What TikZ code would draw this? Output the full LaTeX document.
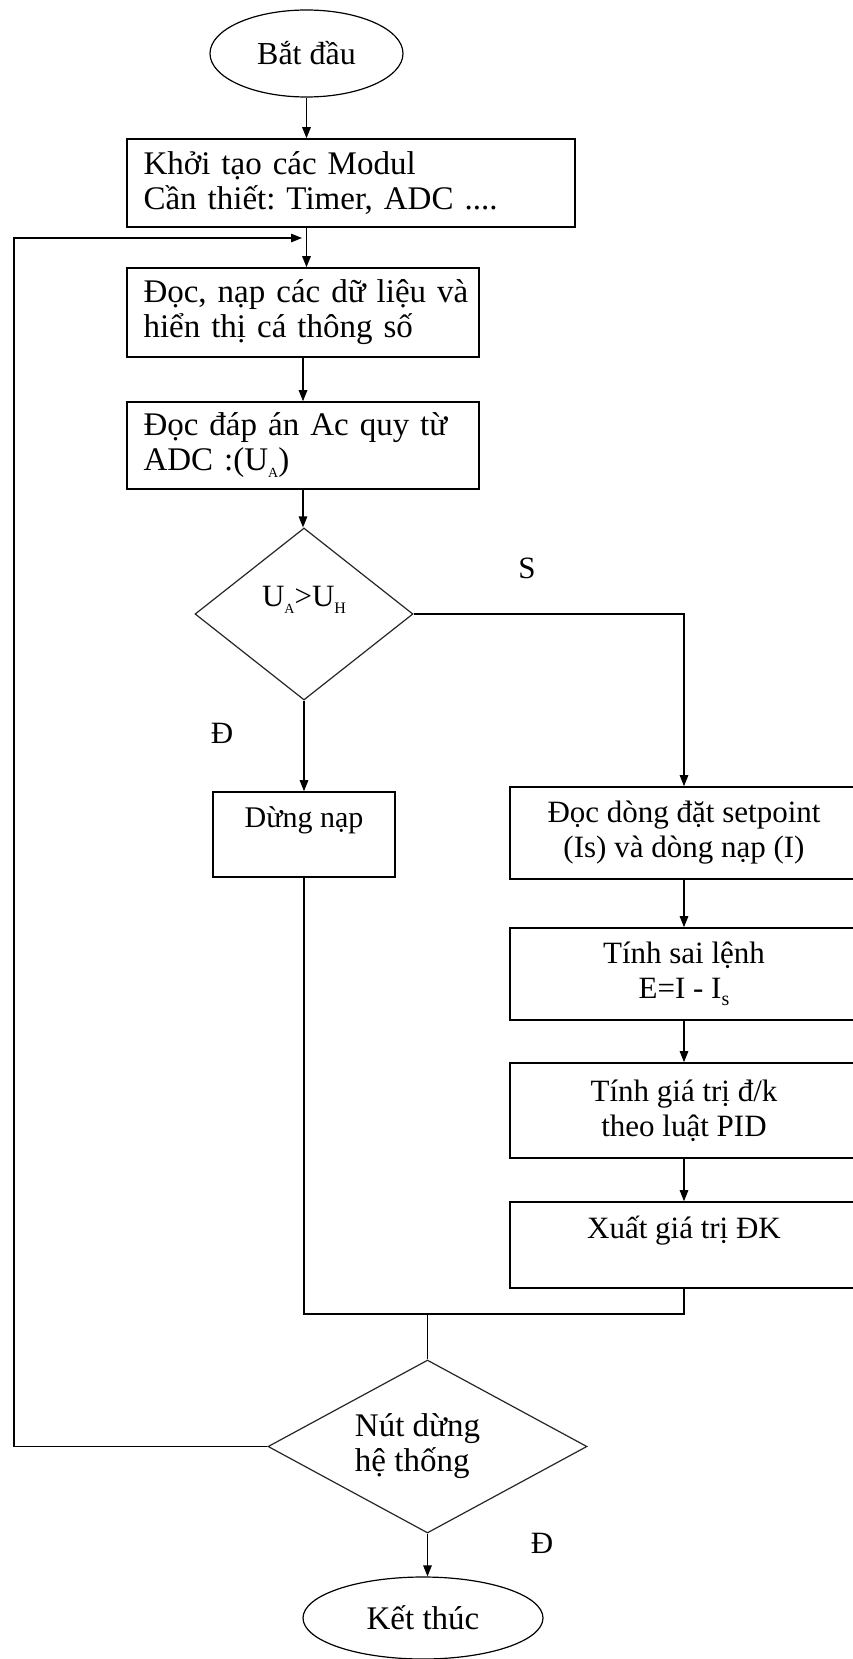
\documentclass[tikz,border=0pt]{standalone}
\usepackage{fontspec}
\setmainfont{Liberation Serif}
\usetikzlibrary{shapes.geometric,arrows.meta}
% small lowered index, as used in U_A, U_H and I_s
\newcommand{\lowsub}[2]{\raisebox{-7pt}{\fontsize{#1}{#1}\selectfont #2}}
\begin{document}
\begin{tikzpicture}[x=1pt,y=-1pt,
  every node/.style={font=\fontsize{33}{35}\selectfont\frenchspacing},
  small/.style={font=\fontsize{31}{35}\selectfont\frenchspacing},
  term/.style={draw, ellipse, line width=1.2pt, inner sep=0pt},
  lbox/.style={draw, rectangle, line width=1.6pt, align=left, inner xsep=16.5pt, inner ysep=0pt},
  cbox/.style={draw, rectangle, line width=1.6pt, align=center, inner sep=0pt},
  dec/.style={draw=black!85, diamond, line width=1.2pt, inner sep=0pt, align=center},
  rbox/.style={cbox, small, minimum width=348pt},
  arr/.style={line width=1.3pt, -{Triangle[length=11pt,width=8.5pt]}},
  wire/.style={line width=1.3pt}
]
\useasboundingbox (0,0) rectangle (853,1659);
\fill[white] (0,0) rectangle (853,1659);
\clip (0,0) rectangle (853,1659);

% left column
\node[term, font=\fontsize{32}{35}\selectfont, minimum width=193pt, minimum height=87pt] (start) at (306.5,53.5) {Bắt đầu};
\node[lbox, text width=415pt, minimum height=88pt] (init) at (351,183)
  {\mbox{Khởi tạo các Modul}\\\mbox{Cần thiết: Timer, ADC ....}};
\node[lbox, text width=319pt, minimum height=89pt] (read) at (303,312.5)
  {\mbox{Đọc, nạp các dữ liệu và}\\\mbox{hiển thị cá thông số}};
\node[lbox, text width=319pt, minimum height=87pt] (adc) at (303,445.5)
  {\mbox{Đọc đáp án Ac quy từ}\\\mbox{ADC :(U\lowsub{14}{A})}};
\node[dec, small, aspect=1.27, minimum width=218pt, minimum height=172pt] (cmp) at (304,614)
  {U\lowsub{14}{A}>U\lowsub{16}{H}\\\mbox{}};
\node[cbox, small, font=\fontsize{30}{35}\selectfont, minimum width=182pt, minimum height=85pt] (stop) at (304,834.5)
  {Dừng nạp\\\mbox{}};

% right column
\node[rbox, minimum height=92pt] (setp) at (684,833)
  {Đọc dòng đặt setpoint\\(Is) và dòng nạp (I)};
\node[rbox, minimum height=92pt] (err) at (684,974)
  {Tính sai lệnh\\E=I - I\lowsub{20}{s}};
\node[rbox, minimum height=95pt] (pid) at (684,1110.5)
  {Tính giá trị đ/k\\theo luật PID};
\node[rbox, minimum height=86pt] (out) at (684,1245)
  {Xuất giá trị ĐK\\\mbox{}};

% bottom
\node[dec, aspect=1.84, minimum width=319pt, minimum height=173pt, align=left] (halt) at (427.5,1446.5)
  {\mbox{Nút dừng\hspace{20pt}}\\hệ thống};
\node[term, minimum width=240pt, minimum height=82pt] (end) at (423,1618) {Kết thúc};

% branch labels
\node[small] (lS) at (527,568) {S};
\node[small] (lD1) at (222,733) {Đ};
\node[small] (lD2) at (542,1543) {Đ};

% helper coordinates
\coordinate (jy) at (0,1314);
\coordinate (lx) at (14,0);
\coordinate (back) at (302,238);

% connectors
\draw[arr] (start.south) -- (start.south |- init.north);
\draw[arr] (init.south -| start.south) -- (start.south |- read.north);
\draw[arr] (read.south) -- (adc.north);
\draw[arr] (adc.south) -- (adc.south |- cmp.north);
\draw[arr] (cmp.east) -| (setp.north);
\draw[arr] (cmp.south) -- (cmp.south |- stop.north);
\draw[arr] (setp.south) -- (err.north);
\draw[arr] (err.south) -- (pid.north);
\draw[arr] (pid.south) -- (out.north);
\draw[wire] (stop.south) -- (stop.south |- jy) -| (out.south);
\draw[wire] (halt.north) -- (halt.north |- jy);
\draw[arr] (halt.south) -- (halt.south |- end.north);
\draw[arr] (halt.west) -- (halt.west -| lx) |- (back);
\end{tikzpicture}
\end{document}
